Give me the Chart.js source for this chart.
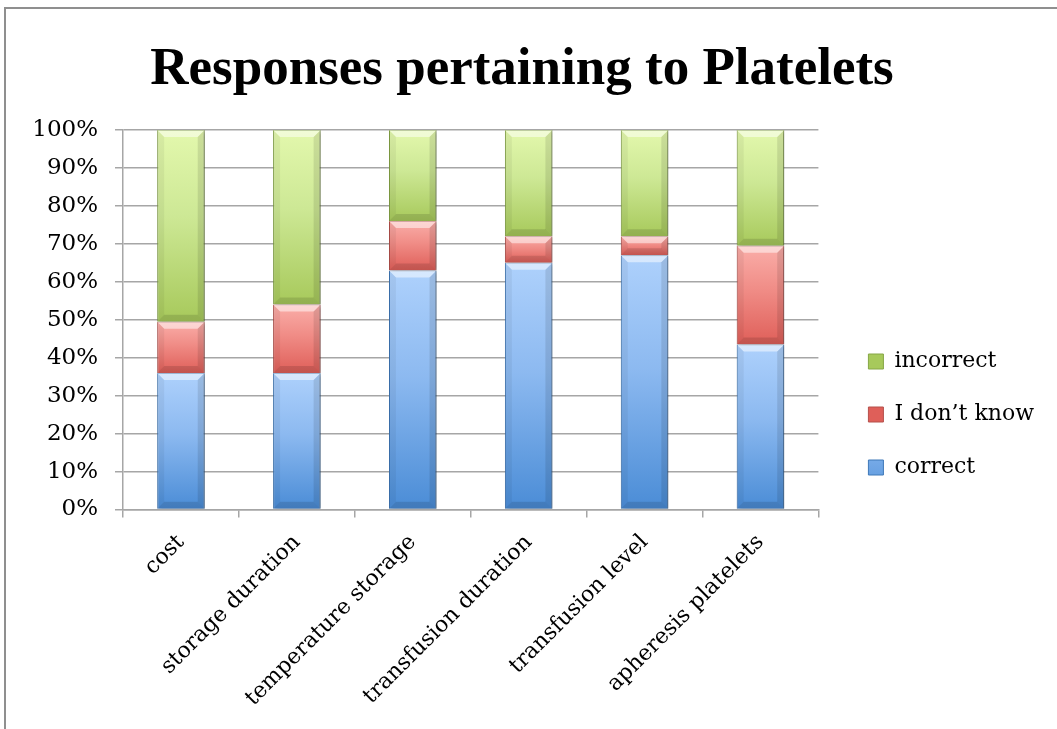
<!DOCTYPE html>
<html>
<head>
<meta charset="utf-8">
<title>Responses pertaining to Platelets</title>
<script src="https://cdn.jsdelivr.net/npm/chart.js@4/dist/chart.umd.min.js"></script>
<style>
  html, body { margin: 0; padding: 0; background: #fff; overflow: hidden; }
  .frame {
    position: absolute; left: 4px; top: 7px; width: 1100px; height: 800px;
    border-left: 2px solid #8f8f8f; border-top: 2px solid #8f8f8f;
  }
  #platelets { position: absolute; left: 0; top: 0; }
</style>
</head>
<body>
<div class="frame"></div>
<canvas id="platelets" width="1057" height="729"></canvas>
<script>
"use strict"

// questions asked about platelets
const questions = ["cost", "storage duration", "temperature storage",
                   "transfusion duration", "transfusion level", "apheresis platelets"];

// share of answers per question (%)
const correct   = [36, 36, 63, 65, 67, 43.5];
const dontKnow  = [13.5, 18, 13, 7, 5, 26];
const incorrect = [50.5, 46, 24, 28, 28, 30.5];

const yTicks = [0, 10, 20, 30, 40, 50, 60, 70, 80, 90, 100];

const serif = "'DejaVu Serif', serif";

// light top -> dark bottom, like the old office bevel bars
function segmentFill(light, mid, dark) {
    return function (ctx) {
        const chart = ctx.chart;
        if (ctx.type !== "data" || !chart.chartArea) return mid;
        const y = chart.scales.y;
        const i = ctx.dataIndex, d = ctx.datasetIndex;
        let start = 0;
        for (let k = 0; k < d; k++) start += chart.data.datasets[k].data[i];
        const top = y.getPixelForValue(start + chart.data.datasets[d].data[i]);
        const bottom = y.getPixelForValue(start);
        const g = chart.ctx.createLinearGradient(0, top, 0, bottom);
        g.addColorStop(0, light);
        g.addColorStop(0.45, mid);
        g.addColorStop(1, dark);
        return g;
    };
}

// soft shadow behind the bars + bevel edges on top of them
const bevelBars = {
    id: "bevelBars",
    beforeDatasetsDraw(chart) {
        const c = chart.ctx;
        c.save();
        c.shadowColor = "rgba(0,0,0,0.35)";
        c.shadowBlur = 4;
        c.shadowOffsetX = 2;
        c.shadowOffsetY = 1;
    },
    afterDatasetsDraw(chart) {
        const c = chart.ctx;
        c.restore();
        const b = 7;
        chart.data.datasets.forEach((ds, d) => {
            chart.getDatasetMeta(d).data.forEach(el => {
                const p = el.getProps(["x", "y", "base", "width"], true);
                const l = p.x - p.width / 2, r = p.x + p.width / 2;
                const t = Math.min(p.y, p.base), bt = Math.max(p.y, p.base);
                if (bt - t < 2 * b) return;
                const poly = (pts, col) => {
                    c.beginPath();
                    c.moveTo(pts[0][0], pts[0][1]);
                    for (let k = 1; k < pts.length; k++) c.lineTo(pts[k][0], pts[k][1]);
                    c.closePath();
                    c.fillStyle = col;
                    c.fill();
                };
                poly([[l, t], [r, t], [r - b, t + b], [l + b, t + b]], "rgba(255,255,255,0.5)");
                poly([[l, t], [l + b, t + b], [l + b, bt - b], [l, bt]], "rgba(0,0,0,0.05)");
                poly([[r, t], [r - b, t + b], [r - b, bt - b], [r, bt]], "rgba(0,0,0,0.10)");
                poly([[l, bt], [l + b, bt - b], [r - b, bt - b], [r, bt]], "rgba(0,0,0,0.12)");
            });
        });
    }
};

const gridGrey = "#a6a6a6";

new Chart(document.getElementById("platelets"), {
    type: "bar",
    data: {
        labels: questions,
        datasets: [
            {
                label: "correct",
                data: correct,
                backgroundColor: segmentFill("#aed1fc", "#8cb9f0", "#4a8cd6"),
                borderColor: "#3f78b8",
                borderWidth: 1
            },
            {
                label: "I don\u2019t know",
                data: dontKnow,
                backgroundColor: segmentFill("#faaea9", "#f08c86", "#df5f59"),
                borderColor: "#b5504b",
                borderWidth: 1
            },
            {
                label: "incorrect",
                data: incorrect,
                backgroundColor: segmentFill("#e3f8ad", "#cde895", "#a7c95b"),
                borderColor: "#86a646",
                borderWidth: 1
            }
        ]
    },
    options: {
        responsive: false,
        animation: false,
        layout: { padding: { right: 13 } },
        datasets: {
            bar: { categoryPercentage: 1, barPercentage: 0.41 }
        },
        plugins: {
            title: {
                display: true,
                text: "Responses pertaining to Platelets",
                color: "#000",
                font: { family: "'Liberation Serif', serif", size: 53, weight: "bold" },
                padding: { top: 39, bottom: 27.4 }
            },
            legend: {
                position: "right",
                align: "end",
                fullSize: false,
                reverse: true,
                maxWidth: 220,
                labels: {
                    color: "#000",
                    font: { family: serif, size: 22 },
                    boxWidth: 15,
                    boxHeight: 15,
                    padding: 31
                }
            },
            tooltip: { enabled: false }
        },
        scales: {
            x: {
                stacked: true,
                grid: { drawOnChartArea: false, offset: true, color: gridGrey, lineWidth: 1.5, tickLength: 8 },
                border: { color: gridGrey, width: 1.5 },
                ticks: {
                    color: "#000",
                    font: { family: serif, size: 22 },
                    maxRotation: 45,
                    minRotation: 45,
                    autoSkip: false,
                    padding: 12
                },
                afterFit(scale) { scale.height = 219.5; }
            },
            y: {
                stacked: true,
                min: 0,
                max: 100,
                afterBuildTicks(scale) { scale.ticks = yTicks.map(v => ({ value: v })); },
                grid: { color: gridGrey, lineWidth: 1.5, tickLength: 8 },
                border: { color: gridGrey, width: 1.5 },
                ticks: {
                    color: "#000",
                    font: { family: serif, size: 23 },
                    padding: 17,
                    callback: v => v + "%"
                },
                afterFit(scale) { scale.width = 123; }
            },
            // empty spacer between plot and legend
            gap: {
                axis: "y",
                position: "right",
                display: true,
                grid: { display: false },
                border: { display: false },
                ticks: { display: false },
                afterFit(scale) { scale.width = 19; }
            }
        }
    },
    plugins: [bevelBars]
});
</script>
</body>
</html>
